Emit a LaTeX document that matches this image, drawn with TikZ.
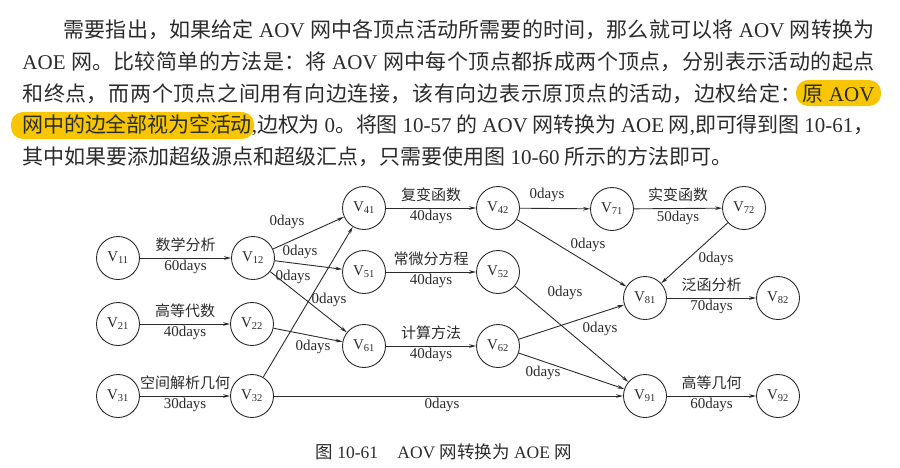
\documentclass[tikz,border=0pt]{standalone}
\usepackage{fontspec}
\setmainfont{Liberation Serif}
\newfontfamily\zh{Noto Sans CJK SC}
\usetikzlibrary{arrows.meta}
\XeTeXlinebreaklocale "zh"
\XeTeXlinebreakskip=0pt plus 4pt minus 0.6pt
\XeTeXlinebreakpenalty=10000
\definecolor{ink}{HTML}{2B2B2B}
\definecolor{marker}{RGB}{247,198,0}
\tikzset{every picture/.style={line width=0.9pt}}
\tikzset{
  vtx/.style={draw=ink,circle,minimum size=43pt,inner sep=0pt,
    font=\fontsize{15pt}{15pt}\selectfont,text=ink},
  act/.style={draw=ink,-{Stealth[length=7pt,width=3.6pt]}},
  wlab/.style={font=\fontsize{15pt}{15pt}\selectfont,text=ink,inner sep=1pt},
  para/.style={anchor=west,inner sep=0pt,text=ink,
    font=\fontsize{21pt}{21pt}\selectfont},
}
\newcommand{\vv}[1]{V\textsubscript{#1}}
\newcommand{\fullline}[2]{\parbox{#1}{\parfillskip=0pt\relax #2}}

\begin{document}
\begin{tikzpicture}[x=1pt,y=-1pt]
\useasboundingbox (0,0) rectangle (900,467);
% marked passage
\fill[marker,rounded corners=12pt] (796,80) rectangle (881,106);
\fill[marker,rounded corners=12pt] (11,112) rectangle (254,139);
% paragraph
\node[para] (p1) at (63,30) {\fullline{811pt}{{\zh 需要指出，如果给定}~AOV~{\zh 网中各顶点活动所需要的时间，那么就可以将}~AOV~{\zh 网转换为}}};
\node[para] (p2) at (22,61.75) {\fullline{852pt}{AOE~{\zh 网。比较简单的方法是：将}~AOV~{\zh 网中每个顶点都拆成两个顶点，分别表示活动的起点}}};
\node[para] (p3) at (22,93.5) {\fullline{852pt}{{\zh 和终点，而两个顶点之间用有向边连接，该有向边表示原顶点的活动，边权给定：原}~AOV}};
\node[para] (p4) at (22,125.25) {\fullline{852pt}{{\zh 网中的边全部视为空活动},{\zh 边权为}~0{\zh 。将图}~10-57~{\zh 的}~AOV~{\zh 网转换为}~AOE~{\zh 网},{\zh 即可得到图}~10-61{\zh ，}}};
\node[para] (p5) at (22,157) {{\zh 其中如果要添加超级源点和超级汇点，只需要使用图}~10-60~{\zh 所示的方法即可。}};

% vertices
\node[vtx] (v11) at (118,258) {\vv{11}};
\node[vtx] (v12) at (253,258) {\vv{12}};
\node[vtx] (v21) at (118,324) {\vv{21}};
\node[vtx] (v22) at (252,324) {\vv{22}};
\node[vtx] (v31) at (118,396) {\vv{31}};
\node[vtx] (v32) at (252,396) {\vv{32}};
\node[vtx] (v41) at (364,208) {\vv{41}};
\node[vtx] (v51) at (364,272) {\vv{51}};
\node[vtx] (v61) at (364,346) {\vv{61}};
\node[vtx] (v42) at (498,208) {\vv{42}};
\node[vtx] (v52) at (498,272) {\vv{52}};
\node[vtx] (v62) at (498,346) {\vv{62}};
\node[vtx] (v71) at (612,209) {\vv{71}};
\node[vtx] (v72) at (744,208) {\vv{72}};
\node[vtx] (v81) at (645,298) {\vv{81}};
\node[vtx] (v82) at (778,298) {\vv{82}};
\node[vtx] (v91) at (645,396) {\vv{91}};
\node[vtx] (v92) at (778,396) {\vv{92}};

% activities
\draw[act] (v11) -- (v12) node[wlab,midway,above=5pt] (a11) {\zh 数学分析} node[wlab,midway,below=1pt] (d11) {60days};
\draw[act] (v21) -- (v22) node[wlab,midway,above=5pt] (a21) {\zh 高等代数} node[wlab,midway,below=1pt] (d21) {40days};
\draw[act] (v31) -- (v32) node[wlab,midway,above=5pt] (a31) {\zh 空间解析几何} node[wlab,midway,below=1pt] (d31) {30days};
\draw[act] (v41) -- (v42) node[wlab,midway,above=5pt] (a41) {\zh 复变函数} node[wlab,midway,below=1pt] (d41) {40days};
\draw[act] (v51) -- (v52) node[wlab,midway,above=5pt] (a51) {\zh 常微分方程} node[wlab,midway,below=1pt] (d51) {40days};
\draw[act] (v61) -- (v62) node[wlab,midway,above=5pt] (a61) {\zh 计算方法} node[wlab,midway,below=1pt] (d61) {40days};
\draw[act] (v71) -- (v72) node[wlab,midway,above=5pt] (a71) {\zh 实变函数} node[wlab,midway,below=1pt] (d71) {50days};
\draw[act] (v81) -- (v82) node[wlab,midway,above=5pt] (a81) {\zh 泛函分析} node[wlab,midway,below=1pt] (d81) {70days};
\draw[act] (v91) -- (v92) node[wlab,midway,above=5pt] (a91) {\zh 高等几何} node[wlab,midway,below=1pt] (d91) {60days};

% empty activities
\draw[act] (v12) -- (v41);
\draw[act] (v12) -- (v51);
\draw[act] (v12) -- (v61);
\draw[act] (v22) -- (v61);
\draw[act] (v32) -- (v41);
\draw[act] (v32) -- (v91);
\draw[act] (v42) -- (v71);
\draw[act] (v42) -- (v81);
\draw[act] (v52) -- (v91);
\draw[act] (v62) -- (v81);
\draw[act] (v62) -- (v91);
\draw[act] (v72) -- (v81);
\node[wlab] (z1) at (287,222) {0days};
\node[wlab] (z2) at (300,252) {0days};
\node[wlab] (z3) at (293,277) {0days};
\node[wlab] (z4) at (329,300) {0days};
\node[wlab] (z5) at (313,347) {0days};
\node[wlab] (z6) at (442,405) {0days};
\node[wlab] (z7) at (547,195) {0days};
\node[wlab] (z8) at (588,245) {0days};
\node[wlab] (z9) at (565,293) {0days};
\node[wlab] (z10) at (600,329) {0days};
\node[wlab] (z11) at (543,373) {0days};
\node[wlab] (z12) at (716,259) {0days};

% caption
\node[anchor=west,inner sep=0pt,text=ink,font=\fontsize{17.5pt}{17.5pt}\selectfont] (cap) at (315,452)
  {{\zh 图}~10-61\hspace{1.1em}AOV~{\zh 网转换为}~AOE~{\zh 网}};
\end{tikzpicture}
\end{document}
